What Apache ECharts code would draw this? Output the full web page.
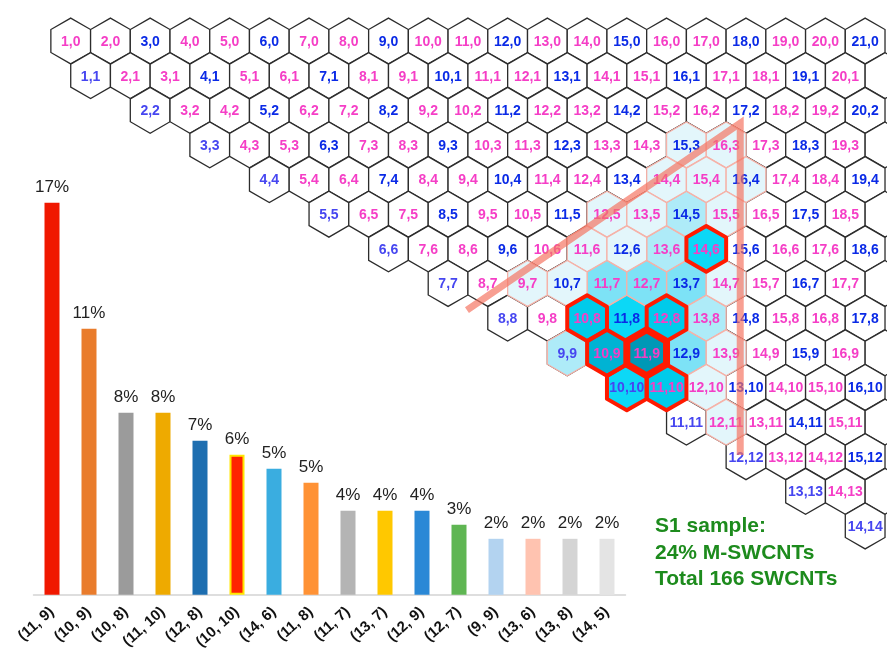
<!DOCTYPE html>
<html>
<head>
<meta charset="utf-8">
<script src="https://cdn.jsdelivr.net/npm/echarts@6/dist/echarts.min.js"></script>
<style>
  html, body { margin: 0; padding: 0; background: #fff; }
  #chart { width: 887px; height: 652px; }
</style>
</head>
<body>
<div id="chart"></div>
<script>
// Most frequent chiralities (n, m) and how many tubes of each were counted
const chiralN = [11, 10, 10, 11, 12, 10, 14, 11, 11, 13, 12, 12, 9, 13, 13, 14];
const chiralM = [9, 9, 8, 10, 8, 10, 6, 8, 7, 7, 9, 7, 9, 6, 8, 5];
const tubeCounts = [28, 19, 13, 13, 11, 10, 9, 8, 6, 6, 6, 5, 4, 4, 4, 4];
const totalTubes = 166;

// Chiralities that were found once each
const singleN = [15, 16, 14, 15, 16, 12, 13, 15, 11, 12, 9, 10, 14, 13, 12, 12];
const singleM = [3, 3, 4, 4, 4, 5, 5, 5, 6, 6, 7, 7, 7, 9, 10, 11];

// Bar fill per chirality
const barColors = ['#f01800', '#e97c2c', '#9b9b9b', '#eeaa00', '#1e6eb0', '#ff2200',
  '#3aade0', '#ff9235', '#b4b4b4', '#ffc800', '#2a88d6', '#5fb653',
  '#b3d3f0', '#ffc3b0', '#d4d4d4', '#e4e4e4'];

// Summary notes
const sampleNotes = ['S1 sample:', '24% M-SWCNTs', 'Total 166 SWCNTs'];

// Corners of the guide triangle on the (n, m) lattice
const guideN = [7.09, 16.67, 11.88];
const guideM = [7.77, 2.37, 11.95];

const LAST_ROW = 14;
const MAX_U = 21.55;     // right-most lattice column that is drawn
const LABEL_U = 21.05;   // columns beyond this show only their outline

// ---------- lattice cells ----------
const cells = [];
for (let m = 0; m <= LAST_ROW; m++) {
  for (let n = Math.max(m, 1); n + m / 2 <= MAX_U; n++) cells.push([n, m]);
}
const shaded = [];
chiralN.forEach((n, i) => shaded.push([n, chiralM[i], tubeCounts[i]]));
singleN.forEach((n, i) => shaded.push([n, singleM[i], 1]));
const maxCount = Math.max(...tubeCounts);

function hexGeom(api, n, m) {
  const c = api.coord([n + m / 2, m]);
  const w = api.size([1, 0])[0];
  const r = w / Math.sqrt(3);
  const pts = [];
  for (let k = 0; k < 6; k++) {
    const a = Math.PI / 180 * (60 * k - 90);
    pts.push([c[0] + r * Math.cos(a), c[1] + r * Math.sin(a)]);
  }
  return { c, pts };
}

const FONT = '"Liberation Sans", Arial, sans-serif';

const chart = echarts.init(document.getElementById('chart'), null, { renderer: 'canvas' });

const option = {
  animation: false,
  backgroundColor: '#ffffff',
  grid: [
    { left: 33.5, top: 129.8, width: 592, height: 467.2 },
    { left: 31, top: 41, width: 40 * MAX_U, height: 40 * Math.sqrt(3) / 2 * LAST_ROW }
  ],
  xAxis: [
    {
      gridIndex: 0, type: 'category',
      data: chiralN.map((n, i) => '(' + n + ', ' + chiralM[i] + ')'),
      axisLine: { lineStyle: { color: '#d3d3d3', width: 1.5 } },
      axisTick: { show: false },
      axisLabel: { interval: 0, rotate: 42, margin: 15, fontSize: 15, fontWeight: 'bold',
        color: '#111', fontFamily: FONT }
    },
    { gridIndex: 1, type: 'value', min: 0, max: MAX_U, show: false }
  ],
  yAxis: [
    { gridIndex: 0, type: 'value', min: 0, max: 20, show: false },
    { gridIndex: 1, type: 'value', min: 0, max: LAST_ROW, inverse: true, show: false }
  ],
  visualMap: {
    type: 'piecewise', show: false, seriesIndex: 2, dimension: 2,
    pieces: [
      { min: 0, max: 1, color: '#e3f6fb' },
      { min: 2, max: 4, color: '#aeebf8' },
      { min: 5, max: 7, color: '#7de2f6' },
      { min: 8, max: 10, color: '#0cd8f6' },
      { min: 11, max: 13, color: '#00cbea' },
      { min: 14, max: 20, color: '#00b3d3' },
      { min: 21, max: 100, color: '#0098b6' }
    ]
  },
  graphic: sampleNotes.map((t, i) => ({
    type: 'text', left: 655, top: 516 + i * 26.5, z: 50,
    style: { text: t, font: 'bold 21px ' + FONT, fill: '#1d8b1d' }
  })),
  series: [
    {
      type: 'bar', xAxisIndex: 0, yAxisIndex: 0, barWidth: 15,
      data: tubeCounts.map((c, i) => ({
        value: c / totalTubes * 100,
        itemStyle: (chiralN[i] === 10 && chiralM[i] === 10)
          ? { color: barColors[i], borderColor: '#ffe600', borderWidth: 2 }
          : { color: barColors[i] }
      })),
      label: {
        show: true, position: 'top', distance: 7,
        formatter: p => Math.round(p.value) + '%',
        fontSize: 17, color: '#222', fontFamily: FONT
      }
    },
    // lattice outlines
    {
      type: 'custom', xAxisIndex: 1, yAxisIndex: 1, clip: false, z: 2,
      data: cells,
      renderItem: (params, api) => {
        const g = hexGeom(api, api.value(0), api.value(1));
        return { type: 'polygon', shape: { points: g.pts },
          style: { fill: '#ffffff', stroke: '#2c2c2c', lineWidth: 1.3 } };
      }
    },
    // counted chiralities, coloured by count
    {
      type: 'custom', xAxisIndex: 1, yAxisIndex: 1, clip: false, z: 3,
      data: shaded,
      renderItem: (params, api) => {
        const g = hexGeom(api, api.value(0), api.value(1));
        return { type: 'polygon', shape: { points: g.pts },
          style: { fill: api.visual('color'), stroke: '#f6b2a8', lineWidth: 1.3 } };
      }
    },
    // frequent chiralities framed in red
    {
      type: 'custom', xAxisIndex: 1, yAxisIndex: 1, clip: false, z: 4,
      data: shaded.filter(d => d[2] >= 9),
      renderItem: (params, api) => {
        const g = hexGeom(api, api.value(0), api.value(1));
        const big = api.value(2) === maxCount;
        return { type: 'polygon', shape: { points: g.pts },
          style: { fill: 'none', stroke: '#ff1a00', lineWidth: big ? 7 : 4, lineJoin: 'round' },
          z2: big ? 10 : 5 };
      }
    },
    // (n,m) labels: metallic tubes in blue, semiconducting in magenta
    {
      type: 'custom', xAxisIndex: 1, yAxisIndex: 1, clip: false, z: 5,
      data: cells.filter(d => d[0] + d[1] / 2 <= LABEL_U),
      renderItem: (params, api) => {
        const n = api.value(0), m = api.value(1);
        const c = api.coord([n + m / 2, m]);
        const metallic = (n - m) % 3 === 0;
        const color = metallic ? (n === m ? '#4646f0' : '#0a2ae6') : '#f53ec6';
        return { type: 'text', x: c[0], y: c[1] + 1,
          style: { text: n + ',' + m, align: 'center', verticalAlign: 'middle',
            textAlign: 'center', textVerticalAlign: 'middle',
            font: 'bold 14px ' + FONT, fill: color } };
      }
    },
    // guide triangle
    {
      type: 'line', xAxisIndex: 1, yAxisIndex: 1, z: 6, symbol: 'none', silent: true,
      data: guideN.map((n, i) => [n + guideM[i] / 2, guideM[i]]),
      lineStyle: { color: '#f4725e', width: 7, opacity: 0.68, join: 'miter' }
    }
  ]
};

chart.setOption(option);
</script>
</body>
</html>
